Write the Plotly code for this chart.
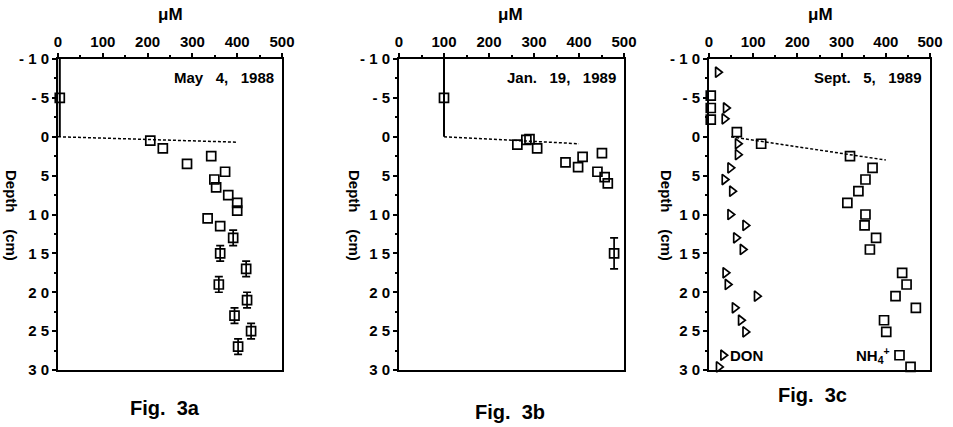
import plotly.graph_objects as go

# ---------------- data ----------------
# Fig 3a  (May 4, 1988)
a_surf_x = [4]
a_surf_y = [-5]
a_surf_err = [5]
a_x = [206, 234, 288, 342, 373, 349, 353, 380, 400, 400, 334, 362]
a_y = [0.5, 1.5, 3.5, 2.5, 4.5, 5.5, 6.5, 7.5, 8.5, 9.5, 10.5, 11.5]
a_err_x = [391, 362, 420, 359, 422, 394, 431, 402]
a_err_y = [13, 15, 17, 19, 21, 23, 25, 27]
a_err = [1, 1, 1, 1, 1, 1, 1, 1]
a_line_x = [0, 400]
a_line_y = [0, 0.7]

# Fig 3b  (Jan. 19, 1989)
b_surf_x = [100]
b_surf_y = [-5]
b_surf_err = [5]
b_x = [263, 283, 290, 307, 370, 398, 408, 451, 441, 457, 464]
b_y = [1.0, 0.4, 0.3, 1.5, 3.3, 3.9, 2.6, 2.1, 4.5, 5.2, 6.0]
b_err_x = [478]
b_err_y = [15]
b_err = [2]
b_line_x = [100, 400]
b_line_y = [0, 0.9]

# Fig 3c  (Sept. 5, 1989)
c_nh4_x = [4, 4, 4, 63, 118, 319, 370, 354, 338, 313, 354, 352, 378, 364,
           437, 447, 422, 468, 396, 401, 431, 456]
c_nh4_y = [-5.3, -3.7, -2.2, -0.6, 0.9, 2.5, 4.0, 5.5, 7.0, 8.5, 10.0, 11.4,
           13.0, 14.5, 17.5, 19.0, 20.5, 22.0, 23.6, 25.1, 28.1, 29.6]
c_don_x = [20, 38, 35, 65, 65, 48, 35, 52, 48, 82, 61, 76, 37, 42, 108, 58,
           72, 82, 32, 22]
c_don_y = [-8.3, -3.7, -2.3, 0.9, 2.3, 4.0, 5.5, 7.0, 10.0, 11.4, 13.0, 14.5,
           17.5, 19.0, 20.5, 22.0, 23.6, 25.1, 28.1, 29.6]
c_line_x = [50, 400]
c_line_y = [0, 3]

x_ticks = [0, 100, 200, 300, 400, 500]
y_ticks = [-10, -5, 0, 5, 10, 15, 20, 25, 30]
y_ticktext = ["- 1 0", "- 5", "0", "5", "1 0", "1 5", "2 0", "2 5", "3 0"]
dates = ["May   4,   1988", "Jan.   19,   1989", "Sept.   5,   1989"]
fig_labels = ["Fig.  3a", "Fig.  3b", "Fig.  3c"]

# ---------------- figure ----------------
W, H = 953, 427
FONT = "Liberation Sans"
fig = go.Figure()

sq = dict(symbol="square-open", size=9, color="black", line=dict(width=1.7, color="black"))
tri = dict(symbol="triangle-right-open", size=9, color="black", line=dict(width=1.7, color="black"))


def add_panel(n, surf_x, surf_y, surf_err, px, py, ex, ey, ee, lx, ly):
    xa = "x" if n == 1 else f"x{n}"
    ya = "y" if n == 1 else f"y{n}"
    fig.add_trace(go.Scatter(x=lx, y=ly, mode="lines", xaxis=xa, yaxis=ya,
                             line=dict(color="black", width=1.5, dash="3px,2px"),
                             showlegend=False, hoverinfo="skip"))
    if surf_x:
        fig.add_trace(go.Scatter(x=surf_x, y=surf_y, mode="markers", xaxis=xa, yaxis=ya,
                                 marker=sq, cliponaxis=False, showlegend=False,
                                 error_y=dict(type="data", array=surf_err, color="black",
                                              thickness=2, width=0)))
    if px:
        fig.add_trace(go.Scatter(x=px, y=py, mode="markers", xaxis=xa, yaxis=ya,
                                 marker=sq, cliponaxis=False, showlegend=False))
    if ex:
        fig.add_trace(go.Scatter(x=ex, y=ey, mode="markers", xaxis=xa, yaxis=ya,
                                 marker=sq, cliponaxis=False, showlegend=False,
                                 error_y=dict(type="data", array=ee, color="black",
                                              thickness=1.7, width=4)))


add_panel(1, a_surf_x, a_surf_y, a_surf_err, a_x, a_y, a_err_x, a_err_y, a_err,
          a_line_x, a_line_y)
add_panel(2, b_surf_x, b_surf_y, b_surf_err, b_x, b_y, b_err_x, b_err_y, b_err,
          b_line_x, b_line_y)
add_panel(3, [], [], [], [], [], [], [], [], c_line_x, c_line_y)
fig.add_trace(go.Scatter(x=c_don_x, y=c_don_y, mode="markers", xaxis="x3", yaxis="y3",
                         marker=tri, cliponaxis=False, showlegend=False))
fig.add_trace(go.Scatter(x=c_nh4_x, y=c_nh4_y, mode="markers", xaxis="x3", yaxis="y3",
                         marker=sq, cliponaxis=False, showlegend=False))

x_domains = [(58, 282), (399, 624), (709, 930)]
y_dom = [1 - 370 / H, 1 - 59 / H]
tickfont = dict(family=FONT, size=15, color="black", weight="bold")

layout = dict(width=W, height=H, margin=dict(l=0, r=0, t=0, b=0, autoexpand=False),
              paper_bgcolor="white", plot_bgcolor="white", showlegend=False,
              font=dict(family=FONT, color="black"))
for i, (x0, x1) in enumerate(x_domains, start=1):
    sx = "" if i == 1 else str(i)
    layout[f"xaxis{sx}"] = dict(
        domain=[x0 / W, x1 / W], anchor=f"y{sx}", side="top", range=[0, 500],
        tickvals=x_ticks, ticks="outside", ticklen=4, tickwidth=1.5, tickcolor="black",
        tickfont=tickfont, showgrid=False, zeroline=False, showline=True,
        linecolor="black", linewidth=2, mirror=True, automargin=False,
        minor=dict(dtick=50, ticks="outside", ticklen=2, tickcolor="black"))
    layout[f"yaxis{sx}"] = dict(
        domain=y_dom, anchor=f"x{sx}", range=[30, -10],
        tickvals=y_ticks, ticktext=y_ticktext, ticks="outside", ticklen=4,
        tickwidth=1.5, tickcolor="black", tickfont=tickfont, showgrid=False,
        zeroline=False, showline=True, linecolor="black", linewidth=2, mirror=True,
        automargin=False,
        minor=dict(dtick=2.5, ticks="outside", ticklen=2, tickcolor="black"))
fig.update_layout(**layout)

title_x = [170, 510, 820]
ylab_x = [12, 355, 667]
fig_x = [165, 510, 812]
fig_y = [408, 412, 395]
for i, (x0, x1) in enumerate(x_domains):
    fig.add_annotation(x=title_x[i] / W, y=1 - 14 / H, xref="paper", yref="paper",
                       text="\u03bcM", showarrow=False, xanchor="center", yanchor="middle",
                       font=dict(family=FONT, size=17, color="black", weight="bold"))
    fig.add_annotation(x=(x1 - 6) / W, y=1 - 78 / H, xref="paper", yref="paper",
                       text=dates[i], showarrow=False, xanchor="right", yanchor="middle",
                       font=dict(family=FONT, size=15, color="black", weight="bold"))
    fig.add_annotation(x=ylab_x[i] / W, y=1 - 215 / H, xref="paper", yref="paper",
                       text="Depth    (cm)", showarrow=False, textangle=90,
                       xanchor="center", yanchor="middle",
                       font=dict(family=FONT, size=15, color="black", weight="bold"))
    fig.add_annotation(x=fig_x[i] / W, y=1 - fig_y[i] / H, xref="paper", yref="paper",
                       text=fig_labels[i], showarrow=False, xanchor="center", yanchor="middle",
                       font=dict(family=FONT, size=20, color="black", weight="bold"))

fig.add_annotation(x=32, y=28.1, xref="x3", yref="y3", text="DON",
                   showarrow=False, xanchor="left", yanchor="middle",
                   font=dict(family=FONT, size=15, color="black", weight="bold"), xshift=5)
fig.add_annotation(x=431, y=28.1, xref="x3", yref="y3", text="NH<sub>4</sub><sup>+</sup>",
                   showarrow=False, xanchor="right", yanchor="middle",
                   font=dict(family=FONT, size=15, color="black", weight="bold"), xshift=-8)

fig.write_html("out.html")
